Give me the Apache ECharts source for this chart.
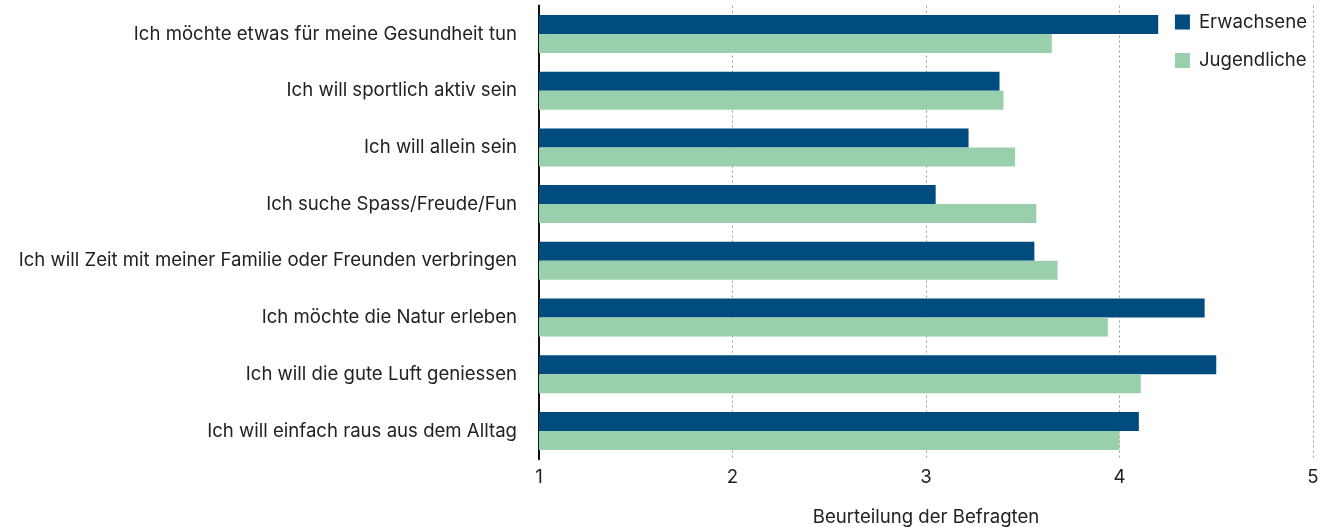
<!DOCTYPE html>
<html>
<head>
<meta charset="utf-8">
<script src="https://cdn.jsdelivr.net/npm/echarts@6/dist/echarts.min.js"></script>
<style>
html,body{margin:0;padding:0;background:#fff;overflow:hidden;}
#chart{width:1321px;height:527px;}
</style>
</head>
<body>
<div id="chart"></div>
<script>
const categories = [
  "Ich möchte etwas für meine Gesundheit tun",
  "Ich will sportlich aktiv sein",
  "Ich will allein sein",
  "Ich suche Spass/Freude/Fun",
  "Ich will Zeit mit meiner Familie oder Freunden verbringen",
  "Ich möchte die Natur erleben",
  "Ich will die gute Luft geniessen",
  "Ich will einfach raus aus dem Alltag"
];
const erwachsene = [4.20, 3.38, 3.22, 3.05, 3.56, 4.44, 4.50, 4.10];
const jugendliche = [3.65, 3.40, 3.46, 3.57, 3.68, 3.94, 4.11, 4.00];
const xTicks = [1, 2, 3, 4, 5];
const axisTitle = "Beurteilung der Befragten";

const FONT = "Inter";
const FS = 18.6;
const chart = echarts.init(document.getElementById('chart'), null, {renderer: 'canvas', width: 1321, height: 527});
chart.setOption({
  animation: false,
  backgroundColor: '#fff',
  textStyle: {fontFamily: FONT},
  grid: {left: 539, right: 8, top: 5.6, height: 453.7, containLabel: false, outerBoundsMode: 'none'},
  legend: {
    orient: 'vertical',
    right: 14,
    top: 12.5,
    padding: 0,
    itemWidth: 15,
    itemHeight: 15,
    itemGap: 19.5,
    icon: 'rect',
    textStyle: {fontFamily: FONT, fontSize: FS, lineHeight: 19, color: '#222', padding: [0,0,0,4]},
    data: ['Erwachsene', 'Jugendliche']
  },
  xAxis: {
    type: 'value',
    min: xTicks[0],
    max: xTicks[xTicks.length - 1],
    interval: 1,
    name: axisTitle,
    nameLocation: 'middle',
    nameGap: 49,
    nameTextStyle: {fontFamily: FONT, fontSize: FS, color: '#222'},
    axisLine: {show: false},
    axisTick: {show: false},
    axisLabel: {fontFamily: FONT, fontSize: FS, color: '#222', margin: 9},
    splitLine: {show: true, lineStyle: {color: '#999', type: [2, 3], width: 1}}
  },
  yAxis: {
    type: 'category',
    inverse: true,
    data: categories,
    axisLine: {show: true, lineStyle: {color: '#111', width: 2}},
    axisTick: {show: false},
    axisLabel: {fontFamily: FONT, fontSize: FS, color: '#222', margin: 22}
  },
  series: [
    {name: 'Erwachsene', type: 'bar', data: erwachsene, barWidth: 19, barGap: 0,
     itemStyle: {color: '#004c7e'}},
    {name: 'Jugendliche', type: 'bar', data: jugendliche, barWidth: 19, barGap: 0,
     itemStyle: {color: '#9acfae'}}
  ]
});
</script>
</body>
</html>
